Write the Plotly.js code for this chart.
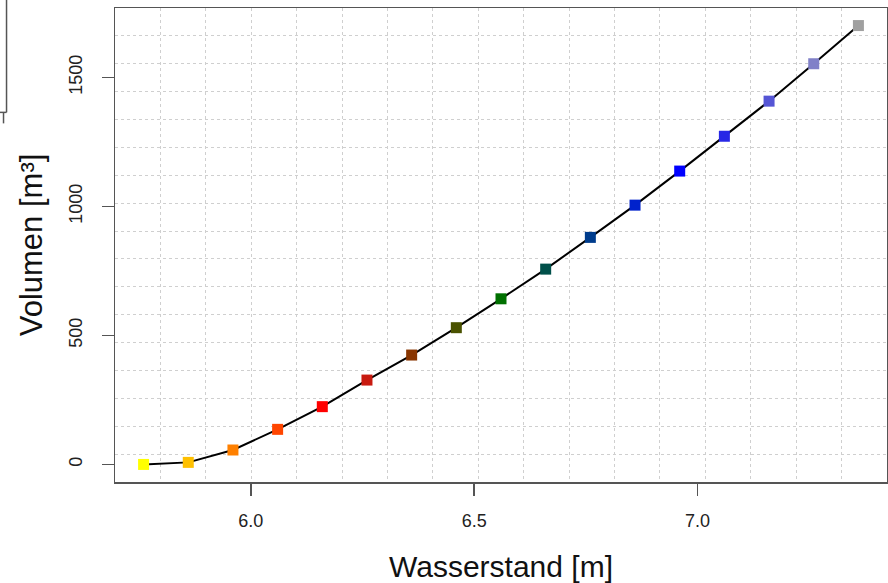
<!DOCTYPE html>
<html>
<head>
<meta charset="utf-8">
<script src="https://cdn.plot.ly/plotly-3.0.1.min.js"></script>
<style>html,body{margin:0;padding:0;background:#fff;}#chart{width:888px;height:583px;}</style>
</head>
<body>
<div id="chart"></div>
<script>
// Data
const wasserstand = [5.76, 5.86, 5.96, 6.06, 6.16, 6.26, 6.36, 6.46, 6.56, 6.66, 6.76, 6.86, 6.96, 7.06, 7.16, 7.26, 7.36];
const volumen = [0, 8, 56, 136, 224, 327, 424, 530, 642, 757, 880, 1005, 1137, 1272, 1408, 1553, 1701];
const pointColors = ["#FFFF00", "#FFC000", "#FF8000", "#FF4500", "#FF0000", "#C81A10", "#883500", "#4A5200", "#007000", "#00504A", "#003C8C", "#0022CC", "#0000FF", "#2828E6", "#5555D5", "#8080C8", "#A0A0A0"];
const xTickVals = [6.0, 6.5, 7.0];
const xTickText = ["6.0", "6.5", "7.0"];
const yTickVals = [0, 500, 1000, 1500];
const yTickText = ["0", "500", "1000", "1500"];

// R-style axis range: data range extended by 4% on each side
function rRange(v) {
  const lo = Math.min(...v), hi = Math.max(...v), d = (hi - lo) * 0.04;
  return [lo - d, hi + d];
}
const xr = rRange(wasserstand);
const yr = rRange(volumen);
const gridCells = 17;

const font = "Liberation Sans, Arial, sans-serif";

const lineTrace = {
  x: wasserstand, y: volumen, type: "scatter", mode: "lines",
  line: {color: "#000000", width: 2}, hoverinfo: "skip", showlegend: false
};
const pointTrace = {
  x: wasserstand, y: volumen, type: "scatter", mode: "markers",
  marker: {symbol: "square", size: 11, color: pointColors, line: {width: 0}},
  showlegend: false
};

const layout = {
  width: 888, height: 583,
  margin: {l: 115, r: 1, t: 8, b: 101},
  paper_bgcolor: "#ffffff", plot_bgcolor: "#ffffff",
  font: {family: font, color: "#222222"},
  xaxis: {
    range: xr, autorange: false,
    tickmode: "array", tickvals: xTickVals, ticktext: xTickText,
    ticks: "outside", ticklen: 12, tickwidth: 1.5, tickcolor: "#555555",
    tickfont: {size: 18, color: "#222222", family: font},
    ticklabelstandoff: 10,
    showgrid: false, zeroline: false,
    showline: true, mirror: true, linecolor: "#555555", linewidth: 1.5,
    minor: {tickmode: "linear", tick0: xr[0], dtick: (xr[1] - xr[0]) / gridCells,
            showgrid: true, gridcolor: "#cfcfcf", griddash: "dot", gridwidth: 1, ticks: ""},
    title: {text: "Wasserstand [m]", font: {size: 30, color: "#111111", family: font}, standoff: 26}
  },
  yaxis: {
    range: yr, autorange: false,
    tickmode: "array", tickvals: yTickVals, ticktext: yTickText,
    tickangle: -90,
    ticks: "outside", ticklen: 12, tickwidth: 1.5, tickcolor: "#555555",
    tickfont: {size: 18, color: "#222222", family: font},
    ticklabelstandoff: 12,
    showgrid: false, zeroline: false,
    showline: true, mirror: true, linecolor: "#555555", linewidth: 1.5,
    minor: {tickmode: "linear", tick0: yr[0], dtick: (yr[1] - yr[0]) / gridCells,
            showgrid: true, gridcolor: "#cfcfcf", griddash: "dot", gridwidth: 1, ticks: ""},
    title: {text: "Volumen [m³]", font: {size: 31, color: "#111111", family: font}, standoff: 14}
  },
  shapes: [
    {type: "line", xref: "paper", yref: "paper", x0: -0.1405, x1: -0.1405, y0: 0.7798, y1: 1.05, line: {color: "#555555", width: 1.5}},
    {type: "line", xref: "paper", yref: "paper", x0: -0.16, x1: -0.1405, y0: 0.7798, y1: 0.7798, line: {color: "#555555", width: 1.5}},
    {type: "line", xref: "paper", yref: "paper", x0: -0.1444, x1: -0.1444, y0: 0.7798, y1: 0.7566, line: {color: "#555555", width: 1.5}}
  ]
};

Plotly.newPlot("chart", [lineTrace, pointTrace], layout, {displayModeBar: false, staticPlot: true});
</script>
</body>
</html>
